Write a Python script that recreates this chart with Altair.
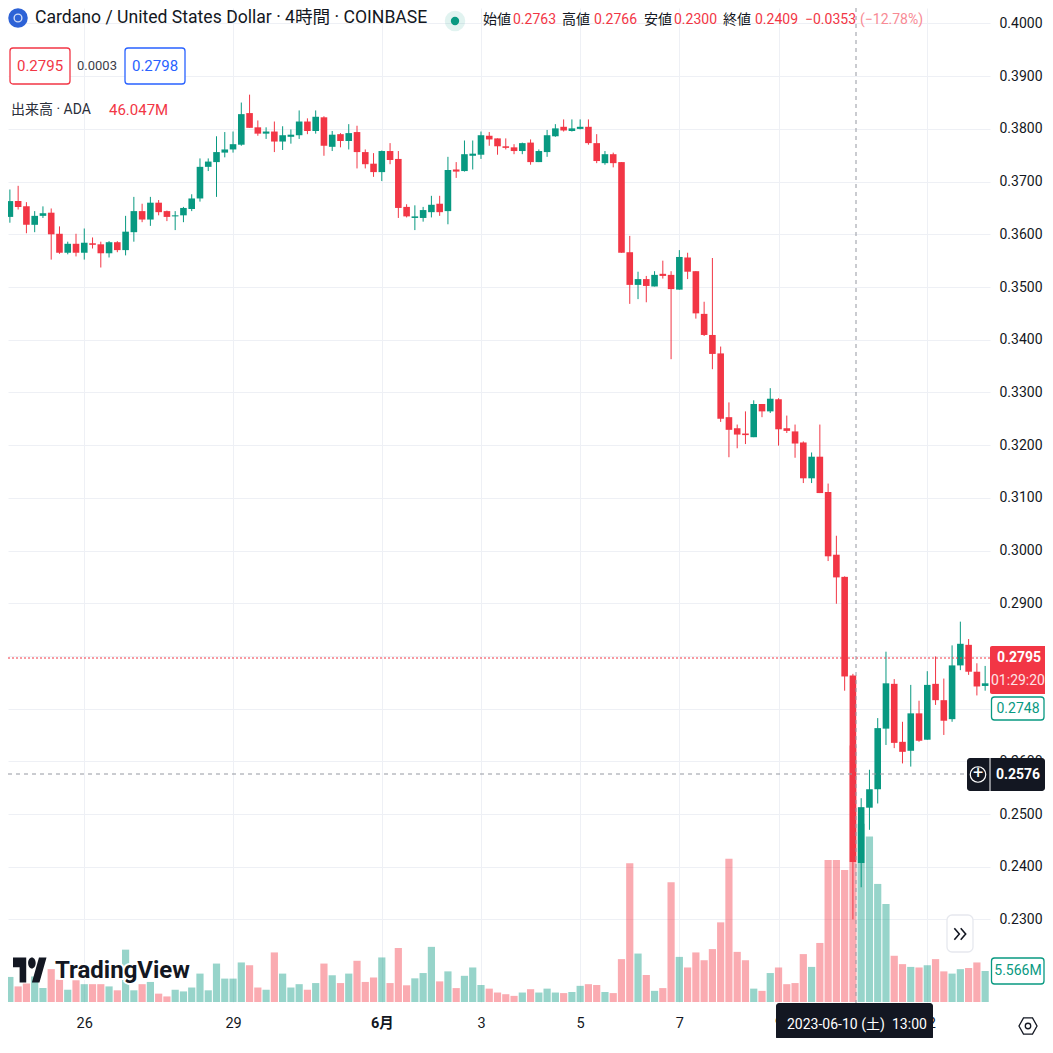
import altair as alt
import pandas as pd

# 4-hour candles, bar 0 = 26 May. Prices in units of 0.0001 USD, volume in millions
first_bar = -9
open_ = [3633,3663,3653,3618,3635,3641,3601,3565,3582,3565,3583,3581,3564,3585,3570,3604,3644,3628,3660,3644,
         3634,3636,3648,3668,3728,3737,3755,3761,3770,3830,3803,3791,3795,3776,3785,3788,3814,3796,3822,3766,
         3790,3777,3794,3756,3734,3718,3758,3743,3652,3631,3631,3642,3658,3644,3723,3720,3749,3751,3787,3782,
         3767,3765,3758,3774,3737,3756,3786,3804,3796,3800,3804,3773,3735,3752,3737,3566,3504,3515,3501,3525,
         3523,3495,3556,3530,3449,3409,3374,3253,3232,3222,3215,3278,3264,3287,3232,3226,3205,3137,3178,3111,
         2992,2950,2763,2407,2512,2547,2662,2747,2637,2620,2691,2641,2747,2716,2680,2782,2821,2770,2743]
high = [3685,3692,3661,3644,3653,3649,3615,3586,3601,3611,3594,3586,3587,3587,3635,3671,3658,3671,3665,3645,
        3644,3652,3676,3744,3744,3786,3794,3795,3850,3865,3816,3803,3814,3805,3799,3835,3820,3835,3824,3796,
        3792,3809,3806,3761,3754,3759,3773,3758,3657,3655,3652,3673,3673,3747,3737,3778,3778,3795,3794,3782,
        3782,3771,3774,3780,3761,3798,3809,3818,3818,3818,3818,3790,3758,3755,3737,3597,3529,3521,3530,3550,
        3530,3570,3565,3530,3472,3555,3387,3281,3239,3264,3285,3278,3308,3289,3256,3239,3207,3186,3239,3127,
        3028,2951,2766,2530,2584,2682,2808,2756,2675,2745,2715,2771,2799,2757,2820,2865,2832,2786,2781]
low = [3622,3647,3602,3604,3631,3552,3563,3562,3558,3552,3573,3537,3556,3566,3560,3586,3623,3616,3636,3625,
       3608,3623,3644,3662,3720,3671,3746,3755,3768,3802,3787,3781,3756,3760,3772,3781,3790,3791,3749,3758,
       3765,3761,3725,3725,3709,3701,3733,3631,3632,3608,3624,3632,3635,3619,3707,3719,3723,3743,3768,3751,
       3761,3752,3752,3732,3737,3747,3785,3795,3795,3799,3770,3735,3732,3727,3565,3468,3477,3471,3501,3516,
       3363,3495,3515,3440,3407,3344,3244,3177,3194,3202,3215,3253,3261,3199,3223,3176,3128,3128,3109,2980,
       2899,2734,2300,2361,2470,2520,2631,2625,2596,2590,2637,2641,2707,2650,2675,2773,2764,2725,2734]
close = [3663,3652,3618,3635,3640,3600,3565,3582,3565,3584,3580,3564,3585,3570,3605,3644,3628,3660,3642,3633,
         3636,3650,3668,3728,3738,3756,3761,3771,3828,3802,3791,3795,3776,3788,3789,3814,3796,3823,3768,3789,
         3777,3792,3756,3733,3718,3758,3741,3650,3634,3634,3646,3656,3642,3722,3719,3752,3753,3788,3780,3767,
         3764,3758,3773,3737,3758,3788,3801,3797,3801,3804,3773,3739,3752,3735,3565,3504,3515,3502,3523,3521,
         3496,3557,3529,3450,3409,3373,3250,3229,3220,3219,3278,3264,3288,3230,3227,3203,3137,3178,3109,2989,
         2949,2761,2409,2513,2547,2663,2748,2635,2618,2691,2639,2745,2716,2677,2782,2823,2770,2742,2748]
volume = [4.5,2.8,3.3,4.6,2.5,5.9,4.0,2.2,3.9,3.2,3.2,3.2,2.8,2.1,9.4,2.1,3.2,3.6,1.5,1.0,
          2.2,1.9,2.6,5.1,2.1,6.9,4.2,4.2,7.1,6.6,2.6,2.2,8.9,5.1,2.6,3.2,2.2,3.4,6.9,4.8,
          3.4,5.1,7.4,3.6,4.4,8.0,3.4,9.7,3.0,4.25,5.2,9.9,3.7,5.5,2.5,4.7,6.2,3.05,2.4,1.7,
          1.4,1.1,1.7,2.3,1.7,2.4,1.7,1.6,1.8,2.9,3.2,3.05,1.8,1.6,7.7,24.9,8.7,4.85,2.0,2.5,
          21.5,8.1,6.2,8.9,7.5,9.5,14.3,25.7,9.0,7.5,2.4,2.0,5.2,6.2,3.2,3.4,8.6,6.3,10.6,25.5,
          25.5,23.7,46.047,32.0,29.7,21.2,17.6,8.3,6.8,6.3,6.2,6.6,7.7,5.5,5.1,5.9,6.1,7.1,5.566]

price_ticks = [0.23,0.24,0.25,0.26,0.27,0.28,0.29,0.30,0.31,0.32,0.33,0.34,0.35,0.36,0.37,0.38,0.39,0.40]
tick_bars = [0,18,36,48,60,72,84,102]
tick_labels = ["26","29","6月","3","5","7","9","12"]
title_text = "Cardano / United States Dollar · 4時間 · COINBASE"
ohlc_parts = [("始値",483,"#131722"),("0.2763",513,"#F23645"),("高値",562,"#131722"),("0.2766",594,"#F23645"),
              ("安値",644,"#131722"),("0.2300",674,"#F23645"),("終値",723,"#131722"),("0.2409",755,"#F23645"),
              ("−0.0353",805,"#F23645"),("(−12.78%)",860,"#F88a94")]

GREEN, RED, INK, GRID = "#089981", "#F23645", "#131722", "#eef0f5"
FONT = "Roboto, Noto Sans CJK JP"

df = pd.DataFrame({"bar": range(first_bar, first_bar + len(open_)),
                   "open": [v/10000 for v in open_], "high": [v/10000 for v in high],
                   "low": [v/10000 for v in low], "close": [v/10000 for v in close],
                   "volume": volume})
df["dir"] = ["up" if c >= o else "down" for o, c in zip(df["open"], df["close"])]

W, H = 982, 994
x_scale = alt.Scale(domain=[-8.6228, 108.982], nice=False, zero=False)
price_scale = alt.Scale(domain=[0.21433, 0.40294], nice=False, zero=False)
vol_scale = alt.Scale(domain=[0, 178.46], nice=False, zero=True)
col = alt.Color("dir:N", scale=alt.Scale(domain=["up", "down"], range=[GREEN, RED]), legend=None)
label_expr = "{" + ",".join(f"'{b}':'{t}'" for b, t in zip(tick_bars, tick_labels)) + "}[datum.value]"
x_axis = alt.Axis(values=tick_bars, labelExpr=label_expr, title=None, domain=False, ticks=False, grid=True,
                  labelPadding=14, labelFontSize=14.5, labelFont=FONT, labelColor=INK, gridColor=GRID,
                  labelOverlap=False, labelFlush=False, labelBound=False,
                  labelFontWeight=alt.ExprRef("datum.value==36?'bold':'normal'"))
y_axis = alt.Axis(values=price_ticks, format=".4f", orient="right", title=None, domain=False, ticks=False, grid=True,
                  labelPadding=9, labelFontSize=14, labelFont=FONT, labelColor=INK, gridColor=GRID,
                  labelOverlap=False, labelFlush=False)
bx = alt.X("bar:Q", scale=x_scale, axis=x_axis)

base = alt.Chart(df)
vol_layer = base.mark_bar(size=7.2, opacity=0.42, clip=True).encode(
    x=bx, y=alt.Y("volume:Q", scale=vol_scale, axis=None), color=col)
wick_layer = base.mark_rule(strokeWidth=1, clip=True).encode(
    x=bx, y=alt.Y("low:Q", scale=price_scale, axis=y_axis), y2="high:Q", color=col)
body_layer = base.mark_bar(size=6.6, clip=True).encode(
    x=bx, y=alt.Y("open:Q", scale=price_scale, axis=None), y2="close:Q", color=col)


def one():
    return alt.Chart(alt.Data(values=[{"a": 1}]))


def text(s, x, y, color=INK, size=14, align="left", weight="normal", **kw):
    return one().mark_text(align=align, baseline="middle", fontSize=size, font=FONT, fontWeight=weight,
                           color=color, **kw).encode(x=alt.value(x - 8), y=alt.value(y - 8), text=alt.value(s))


def box(x0, x1, y0, y1, fill, stroke=None, radius=3):
    kw = {"stroke": stroke, "strokeWidth": 1.3} if stroke else {}
    return one().mark_rect(fill=fill, cornerRadius=radius, **kw).encode(
        x=alt.value(x0 - 8), x2=alt.value(x1 - 8), y=alt.value(y0 - 8), y2=alt.value(y1 - 8))


def hline(y, x0, x1, color, dash):
    return one().mark_rule(color=color, strokeDash=dash, strokeWidth=1).encode(
        x=alt.value(x0 - 8), x2=alt.value(x1 - 8), y=alt.value(y - 8))


def vline(x, y0, y1, color, dash):
    return one().mark_rule(color=color, strokeDash=dash, strokeWidth=1).encode(
        x=alt.value(x - 8), y=alt.value(y0 - 8), y2=alt.value(y1 - 8))


def glyph(x, y, size, shape="circle", fill=None, stroke=None, sw=1.2, op=1.0):
    kw = {"filled": True, "fill": fill} if fill else {"filled": False, "stroke": stroke, "strokeWidth": sw}
    return one().mark_point(shape=shape, size=size, opacity=op, **kw).encode(
        x=alt.value(x - 8), y=alt.value(y - 8))


TV_LOGO = ("M-0.222 0.73L-0.611 0.73L-0.611 -0.162L-1 -0.162L-1 -0.73L-0.222 -0.73Z "
           "M0.556 0.73L0.111 0.73L0.528 -0.73L0.972 -0.73Z "
           "M-0.111 -0.405A0.222 0.324 0 1 0 0.333 -0.405A0.222 0.324 0 1 0 -0.111 -0.405Z")
HEX = "M-0.5 -0.9L0.5 -0.9L1 0L0.5 0.9L-0.5 0.9L-1 0Z"
CHEV = "M-0.8 -0.8L-0.1 0L-0.8 0.8 M0.1 -0.8L0.8 0L0.1 0.8"

layers = [vol_layer, wick_layer, body_layer,
          hline(658, 8, 990, RED, [2, 2]),
          text("TradingView", 55, 971, "white", 24, weight="bold", stroke="white", strokeWidth=4),
          glyph(30, 970, 1156, TV_LOGO, fill=INK),
          text("TradingView", 55, 971, INK, 24, weight="bold"),
          hline(774, 8, 967, "#9598a1", [4, 4]),
          vline(856, 8, 1003, "#9598a1", [4, 4]),
          # header
          glyph(18, 18, 380, fill="#2d62d6"),
          glyph(18, 18, 60, stroke="#cfdcf7", sw=1.4),
          text(title_text, 35, 18, INK, 17.6),
          glyph(455, 21, 420, fill=GREEN, op=0.12),
          glyph(455, 21, 70, fill=GREEN),
          ]
layers += [text(s, x, 20, c, 14) for s, x, c in ohlc_parts]
layers += [box(10, 70, 48, 84, "white", RED), text("0.2795", 40, 66, RED, 15, "center"),
           text("0.0003", 97, 66, "#3c4049", 13, "center"),
           box(125, 185, 48, 84, "white", "#2962FF"), text("0.2798", 155, 66, "#2962FF", 15, "center"),
           text("出来高 · ADA", 11, 110, "#2a2e39", 14), text("46.047M", 109, 110, RED, 15),
           # price scale tags
           box(990, 1053, 646, 694, RED, radius=2),
           text("0.2795", 1019, 658, "white", 14, "center", "bold"),
           text("01:29:20", 1018, 681, "#fde3e5", 14, "center"),
           box(991.5, 1044, 697, 720, "white", GREEN), text("0.2748", 1018, 708.5, GREEN, 14, "center"),
           box(991.5, 1044, 958, 984, "white", GREEN), text("5.566M", 1018, 971, GREEN, 14, "center"),
           box(967, 1045, 758, 791, INK), vline(990, 758, 791, "white", [1, 0]),
           glyph(978, 774.5, 240, stroke="white", sw=1.2),
           text("+", 978, 774, "white", 18, "center"),
           text("0.2576", 1018, 775, "white", 14, "center", "bold"),
           # time tag and buttons
           box(776, 933, 1003, 1040, INK),
           text("2023-06-10 (土)", 787, 1025, "white", 14),
           text("13:00", 892, 1025, "white", 14),
           box(947, 973, 915, 952, "white", "#e6e8ee", radius=5),
           glyph(960, 934, 200, CHEV, stroke=INK, sw=1.6),
           glyph(1028, 1026, 324, HEX, stroke=INK, sw=1.3),
           glyph(1028, 1026, 30, stroke=INK, sw=1.3)]

chart = alt.layer(*layers).resolve_scale(y="independent").properties(
    width=W, height=H, padding={"left": 0, "top": 0, "right": 55, "bottom": 36},
    autosize=alt.AutoSizeParams(type="none"), background="white"
).configure_view(strokeWidth=0)

chart.save("out.html", embed_options={"renderer": "svg", "actions": False})
